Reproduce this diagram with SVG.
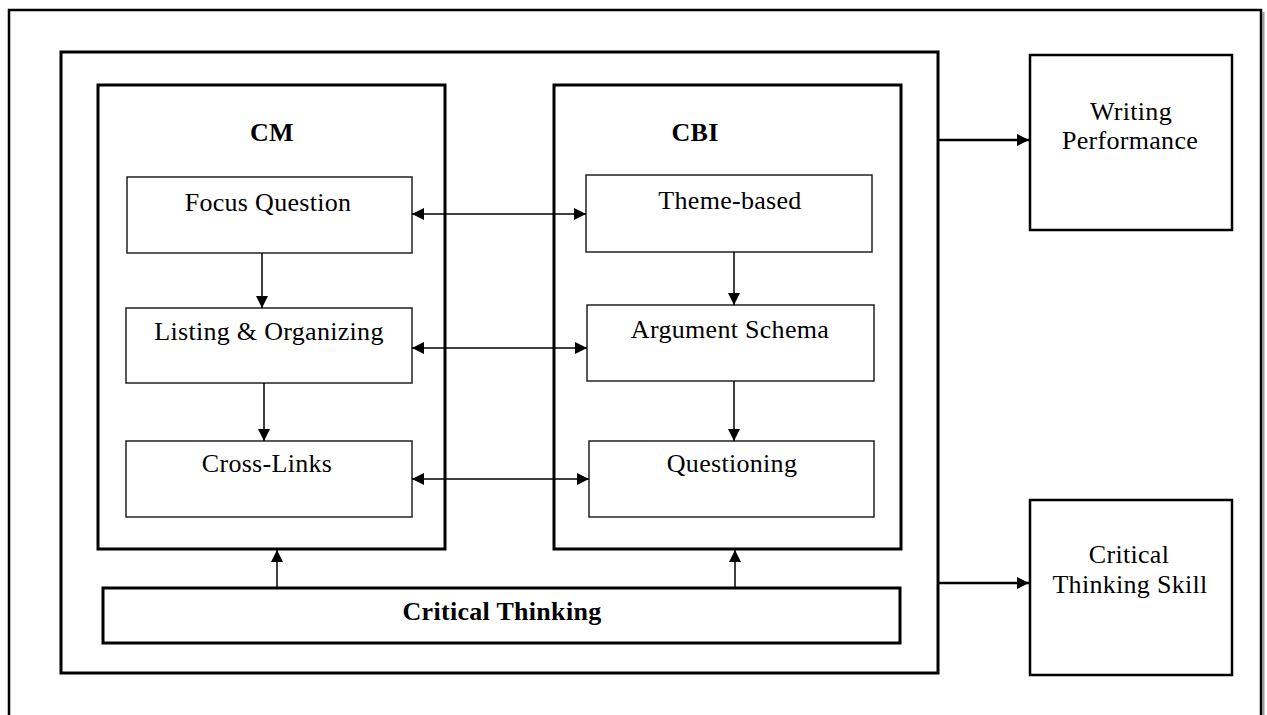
<svg xmlns="http://www.w3.org/2000/svg" width="1267" height="715" viewBox="0 0 1267 715">
<style>
.frame{fill:none;stroke:#000;stroke-width:2.5}
.shadow{fill:none;stroke:#999;stroke-width:2}
.group{fill:#fff;stroke:#000;stroke-width:3}
.box{fill:#fff;stroke:#222;stroke-width:1.5}
.outbox{fill:#fff;stroke:#000;stroke-width:2.5}
.t{font-family:"Liberation Serif","Times New Roman",serif;font-size:26px;letter-spacing:0.3px;fill:#000;text-anchor:middle}
.b{font-weight:bold}
.c{stroke:#000;fill:none}
.thin{stroke-width:1.5}
.thick{stroke-width:2.5}
</style>
<defs>
<marker id="ah" viewBox="0 0 12 12" refX="12" refY="6" markerWidth="12" markerHeight="12" markerUnits="userSpaceOnUse" orient="auto-start-reverse">
<path d="M0,0 L12,6 L0,12 Z" fill="#000"/>
</marker>
<marker id="ahL" viewBox="0 0 12 12" refX="12" refY="6" markerWidth="12" markerHeight="12" markerUnits="userSpaceOnUse" orient="auto">
<path d="M0,0 L12,6 L0,12 Z" fill="#000"/>
</marker>
</defs>
<rect width="1267" height="715" fill="#fff"/>
<g id="outer-frame">
<line class="shadow" x1="1263.5" y1="12" x2="1263.5" y2="715"/>
<rect class="frame" x="9" y="10" width="1252" height="720"/>
</g>
<g id="main-box">
<rect class="group" x="61" y="52" width="877" height="621"/>
</g>
<g id="cm">
<rect class="group" x="98" y="85" width="347" height="464"/>
<text class="t b" x="272" y="141">CM</text>
</g>
<g id="cbi">
<rect class="group" x="554" y="85" width="347" height="464"/>
<text class="t b" x="695" y="141">CBI</text>
</g>
<g id="focus-question">
<rect class="box" x="127" y="177" width="285" height="76"/>
<text class="t" x="268" y="211">Focus Question</text>
</g>
<g id="listing-organizing">
<rect class="box" x="126" y="308" width="286" height="75"/>
<text class="t" x="269" y="340">Listing &amp; Organizing</text>
</g>
<g id="cross-links">
<rect class="box" x="126" y="441" width="286" height="76"/>
<text class="t" x="267" y="472">Cross-Links</text>
</g>
<g id="theme-based">
<rect class="box" x="586" y="175" width="286" height="77"/>
<text class="t" x="730" y="209">Theme-based</text>
</g>
<g id="argument-schema">
<rect class="box" x="587" y="305" width="287" height="76"/>
<text class="t" x="730" y="338">Argument Schema</text>
</g>
<g id="questioning">
<rect class="box" x="589" y="441" width="285" height="76"/>
<text class="t" x="732" y="472">Questioning</text>
</g>
<g id="critical-thinking">
<rect class="group" x="103" y="588" width="797" height="55"/>
<text class="t b" x="502" y="620">Critical Thinking</text>
</g>
<g id="writing-performance">
<rect class="outbox" x="1030" y="55" width="202" height="175"/>
<text class="t" x="1131" y="120">Writing</text>
<text class="t" x="1130" y="149">Performance</text>
</g>
<g id="critical-thinking-skill">
<rect class="outbox" x="1030" y="500" width="202" height="175"/>
<text class="t" x="1129" y="563">Critical</text>
<text class="t" x="1130" y="593">Thinking Skill</text>
</g>
<g id="connectors">
<line class="c thin" x1="412" y1="214" x2="586" y2="214" marker-start="url(#ah)" marker-end="url(#ah)"/>
<line class="c thin" x1="412" y1="348" x2="587" y2="348" marker-start="url(#ah)" marker-end="url(#ah)"/>
<line class="c thin" x1="412" y1="479" x2="589" y2="479" marker-start="url(#ah)" marker-end="url(#ah)"/>
<line class="c thin" x1="262" y1="253" x2="262" y2="308" marker-end="url(#ahL)"/>
<line class="c thin" x1="264" y1="383" x2="264" y2="441" marker-end="url(#ahL)"/>
<line class="c thin" x1="734" y1="252" x2="734" y2="305" marker-end="url(#ahL)"/>
<line class="c thin" x1="734" y1="381" x2="734" y2="441" marker-end="url(#ahL)"/>
<line class="c thin" x1="277" y1="588" x2="277" y2="550" marker-end="url(#ahL)"/>
<line class="c thin" x1="735" y1="588" x2="735" y2="550" marker-end="url(#ahL)"/>
<line class="c thick" x1="938" y1="140" x2="1029" y2="140" marker-end="url(#ahL)"/>
<line class="c thick" x1="938" y1="583" x2="1029" y2="583" marker-end="url(#ahL)"/>
</g>
</svg>
